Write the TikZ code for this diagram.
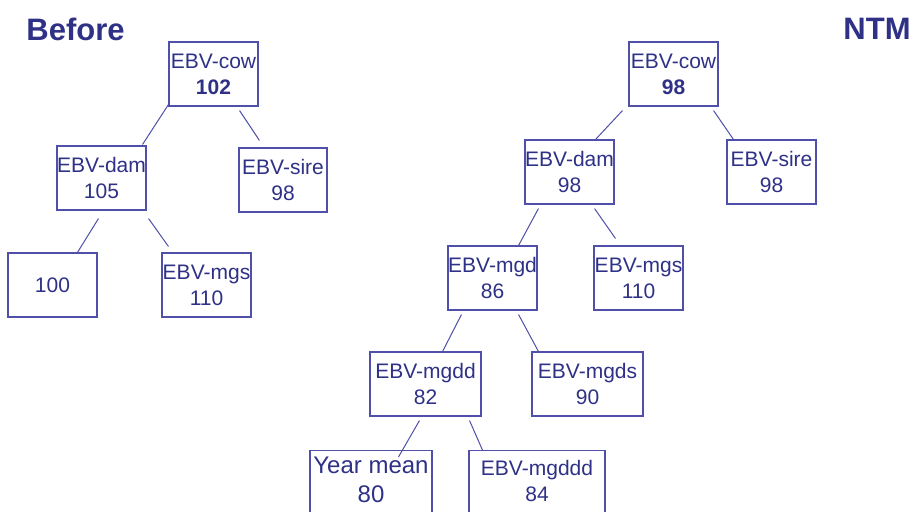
\documentclass[tikz,border=0pt]{standalone}
\usepackage{fontspec}
\setmainfont{Liberation Sans}
\usetikzlibrary{calc}
\definecolor{txt}{RGB}{46,49,134}
\definecolor{edge}{RGB}{80,80,170}
\tikzset{
  box/.style={draw=edge, line width=0.55pt, text=txt, align=center, inner sep=0pt,
    minimum height=32pt, font=\fontsize{10.5}{13}\selectfont},
  big/.style={font=\fontsize{12}{14.5}\selectfont},
  link/.style={draw=edge, line width=0.5pt},
  ttl/.style={text=txt, font=\fontsize{15.5}{18}\selectfont\bfseries, inner sep=0pt}
}
\begin{document}
\begin{tikzpicture}[x=0.5pt, y=-0.5pt]
\clip (0,0) rectangle (913,511);
\fill[white] (0,0) rectangle (913,511);
% titles
\node[ttl, anchor=west] (before) at (26,29) {Before};
\node[ttl, anchor=east] (ntm) at (911,29) {NTM};
% left tree
\node[box, minimum width=44.5pt] (lcow) at (213.5,74) {EBV-cow\\\textbf{102}};
\node[box, minimum width=44.5pt] (ldam) at (101.5,178) {EBV-dam\\105};
\node[box, minimum width=44pt] (lsire) at (283,180) {EBV-sire\\98};
\node[box, minimum width=44.5pt] (lhundred) at (52.5,285) {100};
\node[box, minimum width=44.5pt] (lmgs) at (206.5,285) {EBV-mgs\\110};
\draw[link] ($(lcow.south west)+(0,-2)$) -- ($(ldam.north east)+(-4,-1)$);
\draw[link] ($(lcow.south east)+(-19,4)$) -- ($(lsire.north west)+(21,-7)$);
\draw[link] ($(ldam.south west)+(42,8)$) -- ($(lhundred.north west)+(70,0)$);
\draw[link] ($(ldam.south east)+(2,8)$) -- ($(lmgs.north west)+(7,-6)$);
% right tree
\node[box, minimum width=44.5pt] (rcow) at (673.5,74) {EBV-cow\\\textbf{98}};
\node[box, minimum width=44.5pt] (rsire) at (771.5,172) {EBV-sire\\98};
\node[box, minimum width=44.5pt] (rdam) at (569.5,172) {EBV-dam\\98};
\node[box, minimum width=44.5pt] (rmgd) at (492.5,278) {EBV-mgd\\86};
\node[box, minimum width=44.5pt] (rmgs) at (638.5,278) {EBV-mgs\\110};
\node[box, minimum width=55.5pt] (rmgdd) at (425.5,384) {EBV-mgdd\\82};
\node[box, minimum width=55.5pt] (rmgds) at (587.5,384) {EBV-mgds\\90};
\node[box, big, minimum width=61pt, anchor=north] (ryear) at (371,450) {\\[-9pt]Year mean\\80};
\node[box, minimum width=68pt, anchor=north] (rmgddd) at (537,450) {\\[-7pt]EBV-mgddd\\84};
\draw[link] ($(rcow.south west)+(-6,4)$) -- ($(rdam.north east)+(-19,0)$);
\draw[link] ($(rcow.south east)+(-5,4)$) -- ($(rsire.north west)+(7,0)$);
\draw[link] ($(rdam.south west)+(14,4)$) -- ($(rmgd.north east)+(-19,0)$);
\draw[link] ($(rdam.south east)+(-20,4)$) -- ($(rmgs.north west)+(22,-7)$);
\draw[link] ($(rmgd.south west)+(14,4)$) -- ($(rmgdd.north east)+(-39,0)$);
\draw[link] ($(rmgd.south east)+(-19,4)$) -- ($(rmgds.north west)+(7,0)$);
\draw[link] ($(rmgdd.south west)+(50,4)$) -- ($(ryear.north west)+(89,7)$);
\draw[link] ($(rmgdd.south east)+(-12,4)$) -- ($(rmgddd.north west)+(14,0)$);
\end{tikzpicture}
\end{document}
